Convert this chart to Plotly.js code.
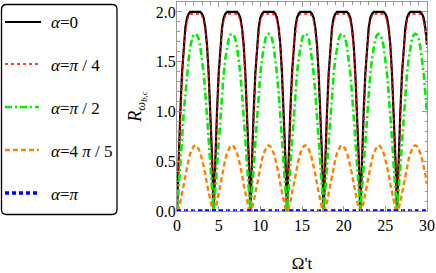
<!DOCTYPE html>
<html><head><meta charset="utf-8">
<script src="https://cdn.plot.ly/plotly-3.0.1.min.js"></script>
<style>html,body{margin:0;padding:0;background:#fff;}#chart{width:436px;height:273px;}</style>
</head><body><div id="chart"></div>
<script>
const t = [0,0.2,0.4,0.6,0.8,1,1.2,1.4,1.6,1.8,2,2.2,2.4,2.6,2.8,3,3.2,3.4,3.6,3.8,4,4.2,4.4,4.6,4.8,5,5.2,5.4,5.6,5.8,6,6.2,6.4,6.6,6.8,7,7.2,7.4,7.6,7.8,8,8.2,8.4,8.6,8.8,9,9.2,9.4,9.6,9.8,10,10.2,10.4,10.6,10.8,11,11.2,11.4,11.6,11.8,12,12.2,12.4,12.6,12.8,13,13.2,13.4,13.6,13.8,14,14.2,14.4,14.6,14.8,15,15.2,15.4,15.6,15.8,16,16.2,16.4,16.6,16.8,17,17.2,17.4,17.6,17.8,18,18.2,18.4,18.6,18.8,19,19.2,19.4,19.6,19.8,20,20.2,20.4,20.6,20.8,21,21.2,21.4,21.6,21.8,22,22.2,22.4,22.6,22.8,23,23.2,23.4,23.6,23.8,24,24.2,24.4,24.6,24.8,25,25.2,25.4,25.6,25.8,26,26.2,26.4,26.6,26.8,27,27.2,27.4,27.6,27.8,28,28.2,28.4,28.6,28.8,29,29.2,29.4,29.6,29.8,30];

const r_alpha0 = [
0,0.55,1,1.38,1.67,1.84,1.94,1.98,2,2,2,2,2,2,2,1.98,1.94,1.84,1.67,1.38,1,0.55,
0,0.55,1,1.38,1.67,1.84,1.94,1.98,2,2,2,2,2,2,2,1.98,1.94,1.84,1.67,1.38,1,0.55,
0,0.55,1,1.38,1.67,1.84,1.94,1.98,2,2,2,2,2,2,2,1.98,1.94,1.84,1.67,1.38,1,0.55,
0,0.55,1,1.38,1.67,1.84,1.94,1.98,2,2,2,2,2,2,2,1.98,1.94,1.84,1.67,1.38,1,0.55,
0,0.55,1,1.38,1.67,1.84,1.94,1.98,2,2,2,2,2,2,2,1.98,1.94,1.84,1.67,1.38,1,0.55,
0,0.55,1,1.38,1.67,1.84,1.94,1.98,2,2,2,2,2,2,2,1.98,1.94,1.84,1.67,1.38,1,0.55,
0,0.55,1,1.38,1.67,1.84,1.94,1.98,2,2,2,2,2,2,2,1.98,1.94,1.84,1.67];

const r_alphaPi4 = [
0,0.53,0.97,1.35,1.64,1.81,1.91,1.96,1.98,1.98,1.98,1.98,1.98,1.98,1.98,1.96,1.91,1.81,1.64,1.35,0.97,0.53,
0,0.53,0.97,1.35,1.64,1.81,1.91,1.96,1.98,1.98,1.98,1.98,1.98,1.98,1.98,1.96,1.91,1.81,1.64,1.35,0.97,0.53,
0,0.53,0.97,1.35,1.64,1.81,1.91,1.96,1.98,1.98,1.98,1.98,1.98,1.98,1.98,1.96,1.91,1.81,1.64,1.35,0.97,0.53,
0,0.53,0.97,1.35,1.64,1.81,1.91,1.96,1.98,1.98,1.98,1.98,1.98,1.98,1.98,1.96,1.91,1.81,1.64,1.35,0.97,0.53,
0,0.53,0.97,1.35,1.64,1.81,1.91,1.96,1.98,1.98,1.98,1.98,1.98,1.98,1.98,1.96,1.91,1.81,1.64,1.35,0.97,0.53,
0,0.53,0.97,1.35,1.64,1.81,1.91,1.96,1.98,1.98,1.98,1.98,1.98,1.98,1.98,1.96,1.91,1.81,1.64,1.35,0.97,0.53,
0,0.53,0.97,1.35,1.64,1.81,1.91,1.96,1.98,1.98,1.98,1.98,1.98,1.98,1.98,1.96,1.91,1.81,1.64];

const r_alphaPi2 = [
0,0.22,0.47,0.72,0.98,1.18,1.38,1.53,1.65,1.73,1.77,1.78,1.77,1.73,1.65,1.53,1.38,1.18,0.98,0.72,0.47,0.22,
0,0.22,0.47,0.72,0.98,1.18,1.38,1.53,1.65,1.73,1.77,1.78,1.77,1.73,1.65,1.53,1.38,1.18,0.98,0.72,0.47,0.22,
0,0.22,0.47,0.72,0.98,1.18,1.38,1.53,1.65,1.73,1.77,1.78,1.77,1.73,1.65,1.53,1.38,1.18,0.98,0.72,0.47,0.22,
0,0.22,0.47,0.72,0.98,1.18,1.38,1.53,1.65,1.73,1.77,1.78,1.77,1.73,1.65,1.53,1.38,1.18,0.98,0.72,0.47,0.22,
0,0.22,0.47,0.72,0.98,1.18,1.38,1.53,1.65,1.73,1.77,1.78,1.77,1.73,1.65,1.53,1.38,1.18,0.98,0.72,0.47,0.22,
0,0.22,0.47,0.72,0.98,1.18,1.38,1.53,1.65,1.73,1.77,1.78,1.77,1.73,1.65,1.53,1.38,1.18,0.98,0.72,0.47,0.22,
0,0.22,0.47,0.72,0.98,1.18,1.38,1.53,1.65,1.73,1.77,1.78,1.77,1.73,1.65,1.53,1.38,1.18,0.98];

const r_alpha4Pi5 = [
0,0.03,0.09,0.18,0.27,0.37,0.45,0.52,0.58,0.62,0.65,0.66,0.65,0.62,0.58,0.52,0.45,0.37,0.27,0.18,0.09,0.03,
0,0.03,0.09,0.18,0.27,0.37,0.45,0.52,0.58,0.62,0.65,0.66,0.65,0.62,0.58,0.52,0.45,0.37,0.27,0.18,0.09,0.03,
0,0.03,0.09,0.18,0.27,0.37,0.45,0.52,0.58,0.62,0.65,0.66,0.65,0.62,0.58,0.52,0.45,0.37,0.27,0.18,0.09,0.03,
0,0.03,0.09,0.18,0.27,0.37,0.45,0.52,0.58,0.62,0.65,0.66,0.65,0.62,0.58,0.52,0.45,0.37,0.27,0.18,0.09,0.03,
0,0.03,0.09,0.18,0.27,0.37,0.45,0.52,0.58,0.62,0.65,0.66,0.65,0.62,0.58,0.52,0.45,0.37,0.27,0.18,0.09,0.03,
0,0.03,0.09,0.18,0.27,0.37,0.45,0.52,0.58,0.62,0.65,0.66,0.65,0.62,0.58,0.52,0.45,0.37,0.27,0.18,0.09,0.03,
0,0.03,0.09,0.18,0.27,0.37,0.45,0.52,0.58,0.62,0.65,0.66,0.65,0.62,0.58,0.52,0.45,0.37,0.27];

const t_alphaPi = [0, 30];
const r_alphaPi = [0, 0];

const seriesNames = ['<i>α</i>=0', '<i>α</i>=<i>π</i> / 4', '<i>α</i>=<i>π</i> / 2', '<i>α</i>=4 <i>π</i> / 5', '<i>α</i>=<i>π</i>'];
const xTicks = [0, 5, 10, 15, 20, 25, 30];
const yTicks = [0, 0.5, 1.0, 1.5, 2.0];
const yTickText = ['0.0', '0.5', '1.0', '1.5', '2.0'];

const SERIF = 'Liberation Serif, Times New Roman, serif';
const W = 436, H = 273, ML = 177, MR = 9, MT = 2, MB = 62;
const PW = W - ML - MR, PH = H - MT - MB;
const px = x => (x - ML) / PW;
const py = y => (H - MB - y) / PH;

const styles = [
  {color: '#000000', width: 2.2},
  {color: '#ff0000', width: 1.6, dash: 'dot'},
  {color: '#00ee00', width: 2.6, dash: '7px,3px,2px,3px'},
  {color: '#ff8000', width: 2.4, dash: '5px,3px'},
  {color: '#0000ff', width: 3.5, dash: '4px,3px'}
];
const xs = [t, t, t, t, t_alphaPi];
const ys = [r_alpha0, r_alphaPi4, r_alphaPi2, r_alpha4Pi5, r_alphaPi];

const traces = ys.map((y, i) => ({
  type: 'scatter', mode: 'lines', x: xs[i], y: y, name: seriesNames[i],
  line: styles[i], showlegend: false
}));

// manual legend (pixel positions converted to paper coords)
const legendRowY = [22, 64, 107, 150, 193];
const shapes = [];
const annotations = [];
legendRowY.forEach((yy, i) => {
  shapes.push({type: 'line', xref: 'paper', yref: 'paper', x0: px(5), x1: px(i === 0 ? 41 : 39), y0: py(yy), y1: py(yy),
    line: Object.assign({}, styles[i])});
  annotations.push({xref: 'paper', yref: 'paper', x: px(49), y: py(yy + 1), xanchor: 'left', yanchor: 'middle',
    text: seriesNames[i], showarrow: false, font: {family: SERIF, size: 17, color: '#000'}});
});

// rounded legend frame
const bx0 = 1.5, by0 = 4.5, bx1 = 117, by1 = 214.5, rr = 5;
const rx = rr / PW, ry = rr / PH;
const X0 = px(bx0), X1 = px(bx1), Y0 = py(by0), Y1 = py(by1);
shapes.push({type: 'path', xref: 'paper', yref: 'paper', layer: 'above', line: {color: '#000', width: 1.3},
  path: `M ${X0 + rx} ${Y0} L ${X1 - rx} ${Y0} Q ${X1} ${Y0} ${X1} ${Y0 - ry} L ${X1} ${Y1 + ry} Q ${X1} ${Y1} ${X1 - rx} ${Y1} L ${X0 + rx} ${Y1} Q ${X0} ${Y1} ${X0} ${Y1 + ry} L ${X0} ${Y0 - ry} Q ${X0} ${Y0} ${X0 + rx} ${Y0} Z`});

const axisCommon = {
  showline: true, mirror: 'allticks', linecolor: '#999999', linewidth: 1,
  ticks: 'inside', ticklen: 5, tickcolor: '#999999', tickwidth: 1,
  showgrid: false, zeroline: false,
  tickfont: {family: SERIF, size: 16, color: '#000'}
};

const layout = {
  width: W, height: H,
  margin: {l: ML, r: MR, t: MT, b: MB, pad: 0},
  paper_bgcolor: '#fff', plot_bgcolor: '#fff',
  showlegend: false,
  xaxis: Object.assign({}, axisCommon, {
    range: [0, 30], tickvals: xTicks, ticktext: xTicks.map(String),
    minor: {ticks: 'inside', ticklen: 2.5, dtick: 1, tick0: 0, tickcolor: '#999999', showgrid: false},
    title: {text: 'Ω\'t', font: {family: SERIF, size: 17, color: '#000'}, standoff: 26}
  }),
  yaxis: Object.assign({}, axisCommon, {
    range: [0, 2.1], tickvals: yTicks, ticktext: yTickText, ticklabelstandoff: -3,
    minor: {ticks: 'inside', ticklen: 2.5, dtick: 0.1, tick0: 0, tickcolor: '#999999', showgrid: false},
    title: {text: '<i>R</i><sub><i>ω</i><sub><i>b,c</i></sub></sub>', font: {family: SERIF, size: 18, color: '#000'}, standoff: 9}
  }),
  shapes: shapes,
  annotations: annotations
};

Plotly.newPlot('chart', traces, layout, {displayModeBar: false, staticPlot: true});
</script>
</body></html>
